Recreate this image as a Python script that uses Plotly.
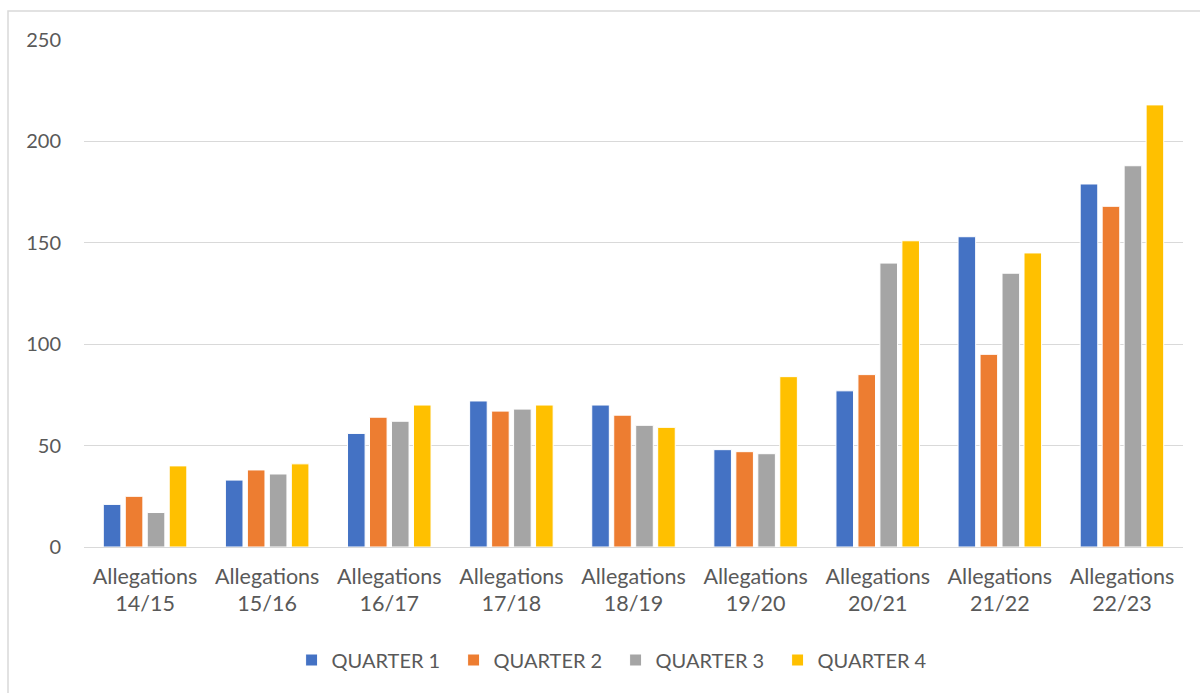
import plotly.graph_objects as go

categories = ["Allegations<br>14/15", "Allegations<br>15/16", "Allegations<br>16/17",
              "Allegations<br>17/18", "Allegations<br>18/19", "Allegations<br>19/20",
              "Allegations<br>20/21", "Allegations<br>21/22", "Allegations<br>22/23"]
quarter1 = [21, 33, 56, 72, 70, 48, 77, 153, 179]
quarter2 = [25, 38, 64, 67, 65, 47, 85, 95, 168]
quarter3 = [17, 36, 62, 68, 60, 46, 140, 135, 188]
quarter4 = [40, 41, 70, 70, 59, 84, 151, 145, 218]
series_names = ["QUARTER 1", "QUARTER 2", "QUARTER 3", "QUARTER 4"]
colors = ["#4472C4", "#ED7D31", "#A5A5A5", "#FFC000"]
y_ticks = [0, 50, 100, 150, 200, 250]

FONT = "Lato"
TEXT = "#595959"

fig = go.Figure()
for name, vals, col in zip(series_names, [quarter1, quarter2, quarter3, quarter4], colors):
    fig.add_trace(go.Bar(x=categories, y=vals, name=name,
                         marker=dict(color=col, line=dict(color="white", width=1))))

W, H = 1200, 693
ml, mr, mt, mb = 84, 17, 40, 146
fig.update_layout(
    width=W, height=H,
    margin=dict(l=ml, r=mr, t=mt, b=mb),
    paper_bgcolor="white", plot_bgcolor="white",
    barmode="group", bargap=0.28, bargroupgap=0.2,
    font=dict(family=FONT, size=20, color=TEXT),
    xaxis=dict(showgrid=False, showline=False, ticks="", ticklabelstandoff=14,
               tickfont=dict(size=21.5, color=TEXT)),
    yaxis=dict(range=[0, 250], tickvals=y_ticks, showgrid=True, gridcolor="#D9D9D9",
               gridwidth=1.3, zeroline=True, zerolinecolor="#D9D9D9", zerolinewidth=1.3,
               showline=False, ticks="", ticklabelstandoff=22,
               tickfont=dict(size=20, color=TEXT)),
    legend=dict(orientation="h", xref="container", yref="container",
                x=0.513, xanchor="center", y=1 - 660 / H, yanchor="middle",
                font=dict(size=20, color=TEXT), itemwidth=30,
                entrywidth=117, entrywidthmode="pixels"),
    shapes=[dict(type="rect", xref="paper", yref="paper",
                 x0=(8 - ml) / (W - ml - mr), x1=(1215 - ml) / (W - ml - mr),
                 y0=-(710 - (H - mb)) / (H - mt - mb), y1=1 + (mt - 11) / (H - mt - mb),
                 line=dict(color="#D9D9D9", width=1.5), layer="below")],
)

fig.write_html("out.html")
